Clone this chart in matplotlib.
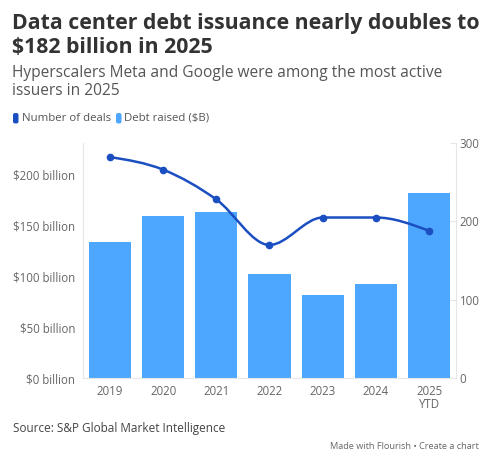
import matplotlib.pyplot as plt
import numpy as np
from matplotlib.path import Path
from matplotlib.patches import PathPatch, FancyBboxPatch

years = ["2019", "2020", "2021", "2022", "2023", "2024", "2025\nYTD"]
debt_raised = [134, 159, 163, 102, 82, 92, 182]       # $B
num_deals = [282, 266, 228, 170, 205, 205, 188]

bar_color = "#4da7fe"
line_color = "#1b4fc1"
plt.rcParams["font.family"] = ["Open Sans", "DejaVu Sans"]


def monotone_path(x, y):
    # same shape as d3 curveMonotoneX
    x = np.asarray(x, float)
    y = np.asarray(y, float)
    n = len(x)
    h = np.diff(x)
    s = np.diff(y) / h
    t = np.zeros(n)
    for i in range(1, n - 1):
        p = (s[i - 1] * h[i] + s[i] * h[i - 1]) / (h[i - 1] + h[i])
        t[i] = (np.sign(s[i - 1]) + np.sign(s[i])) * min(abs(s[i - 1]), abs(s[i]), 0.5 * abs(p))
    t[0] = (3 * s[0] - t[1]) / 2
    t[-1] = (3 * s[-1] - t[-2]) / 2
    verts = [(x[0], y[0])]
    codes = [Path.MOVETO]
    for i in range(n - 1):
        dx = h[i] / 3
        verts += [(x[i] + dx, y[i] + dx * t[i]), (x[i + 1] - dx, y[i + 1] - dx * t[i + 1]), (x[i + 1], y[i + 1])]
        codes += [Path.CURVE4] * 3
    return Path(verts, codes)


fig = plt.figure(figsize=(5, 4.73), dpi=100)
ax = fig.add_axes([0.1667, 0.2002, 0.7446, 0.4975])
ax2 = ax.twinx()

xs = np.arange(len(years))
ax.bar(xs, debt_raised, width=0.79, color=bar_color, zorder=2)
ax.set_xlim(-0.5, len(years) - 0.5)
ax.set_ylim(0, 230.5)
ax.set_yticks([0, 50, 100, 150, 200])
ax.set_yticklabels([f"${v} billion" for v in [0, 50, 100, 150, 200]])
ax.set_xticks(xs)
ax.set_xticklabels(years, linespacing=0.95)

ax2.set_ylim(0, 300)
ax2.set_yticks([0, 100, 200, 300])
ax2.add_patch(PathPatch(monotone_path(xs, num_deals), facecolor="none", edgecolor=line_color, lw=1.8, zorder=3))
ax2.plot(xs, num_deals, "o", color=line_color, ms=4.5, zorder=4)

for a in (ax, ax2):
    a.spines["top"].set_visible(False)
    for sp in a.spines.values():
        sp.set_color("#e6e6e6")
        sp.set_linewidth(0.8)
ax2.spines["left"].set_visible(False)
ax2.spines["bottom"].set_visible(False)
ax.spines["right"].set_visible(False)
ax.tick_params(axis="y", length=0, labelsize=8.3, labelcolor="#666666", pad=6)
ax.tick_params(axis="x", length=0, labelsize=8.3, labelcolor="#666666", pad=5)
ax2.tick_params(axis="y", length=4, color="#e6e6e6", direction="in", labelsize=8.3, labelcolor="#666666", pad=3)
ax.set_zorder(ax2.get_zorder() - 1)
ax2.patch.set_visible(False)

fig.text(0.025, 0.972, "Data center debt issuance nearly doubles to\n$182 billion in 2025",
         fontsize=15.3, fontweight="bold", color="#333333", va="top", linespacing=1.15)
fig.text(0.025, 0.862, "Hyperscalers Meta and Google were among the most active\nissuers in 2025",
         fontsize=11.2, color="#555555", va="top", linespacing=1.15)

# legend
for lx, col, label in [(0.026, line_color, "Number of deals"), (0.232, bar_color, "Debt raised ($B)")]:
    fig.patches.append(FancyBboxPatch((lx, 0.739), 0.011, 0.022, boxstyle="round,pad=0,rounding_size=0.004",
                                      transform=fig.transFigure, facecolor=col, edgecolor="none"))
    fig.text(lx + 0.017, 0.750, label, fontsize=8.2, color="#555555", va="center")

fig.text(0.026, 0.094, "Source: S&P Global Market Intelligence", fontsize=8.5, color="#444444", va="center")
fig.text(0.957, 0.056, "Made with Flourish \u2022 Create a chart", fontsize=6.6, color="#666666", va="center", ha="right")

fig.savefig("out.png", dpi=100)
